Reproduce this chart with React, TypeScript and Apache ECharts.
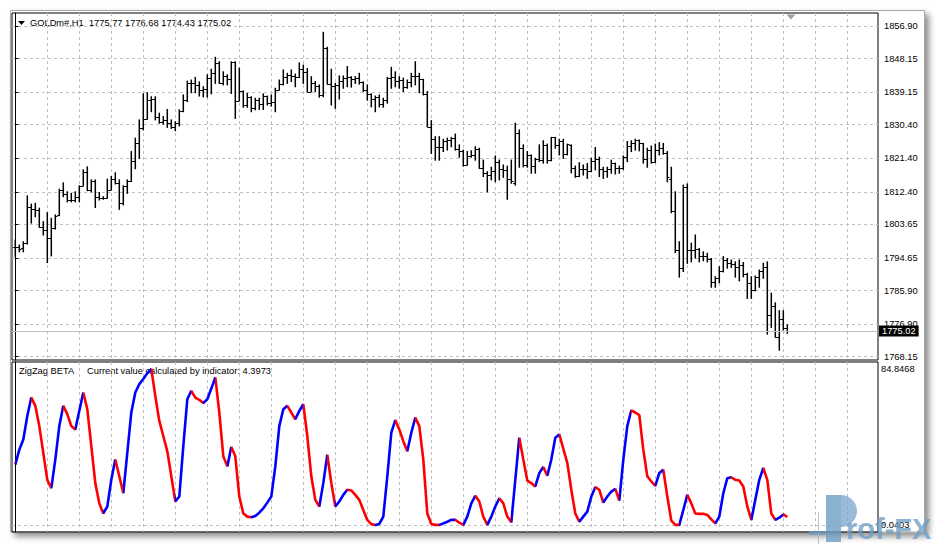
import React, { useEffect, useRef } from 'react';
import * as echarts from 'echarts';

const symbolLabel = 'GOLDm#,H1';
const indicatorName = 'ZigZag BETA';
const indicatorCaption = 'Current value calculated by indicator:';

// price axis tick labels (right scale)
const priceTicks = [1856.9, 1848.15, 1839.15, 1830.4, 1821.4, 1812.4, 1803.65, 1794.65, 1785.9, 1776.9, 1768.15];
// indicator scale labels
const indicatorTicks = [84.8468, 0.0403];
const indicatorGridLevels = [0.0403];
// vertical grid lines (bar index)
const timeGridBars = [8, 16, 24, 32, 40, 48, 56, 64, 72, 80, 88, 96, 104, 112, 120, 128, 136, 144, 152, 160, 168, 176, 184, 192, 200, 208];

const opens = [
  1797.7, 1797.7, 1797.2, 1798.6, 1808.2, 1807.7, 1807.5, 1803.0, 1802.2, 1799.9,
  1802.6, 1806.2, 1812.9, 1811.8, 1810.2, 1810.2, 1811.1, 1814.0, 1817.8, 1812.9,
  1815.4, 1810.9, 1810.7, 1810.7, 1812.9, 1815.8, 1814.7, 1809.3, 1814.0, 1815.2,
  1820.8, 1825.4, 1829.4, 1831.9, 1837.0, 1837.3, 1832.6, 1831.2, 1831.7, 1830.8,
  1829.9, 1830.8, 1834.2, 1837.0, 1841.7, 1841.5, 1841.1, 1839.7, 1840.0, 1842.9,
  1844.4, 1846.9, 1841.5, 1843.5, 1842.6, 1847.3, 1836.9, 1839.5, 1835.7, 1837.8,
  1834.8, 1837.0, 1836.0, 1838.1, 1836.2, 1836.6, 1839.7, 1841.3, 1843.1, 1843.8,
  1843.5, 1843.1, 1845.3, 1844.6, 1839.3, 1841.5, 1840.8, 1838.4, 1851.0, 1841.3,
  1840.8, 1841.1, 1842.1, 1842.9, 1843.1, 1842.6, 1842.9, 1841.9, 1839.7, 1838.7,
  1837.2, 1837.8, 1836.0, 1837.0, 1842.9, 1843.1, 1842.1, 1842.4, 1840.6, 1841.9,
  1843.5, 1843.5, 1842.6, 1838.7, 1829.9, 1826.5, 1824.4, 1824.5, 1826.1, 1826.3,
  1826.8, 1823.8, 1823.4, 1819.6, 1822.0, 1822.3, 1823.8, 1818.7, 1817.4, 1816.9,
  1818.1, 1820.5, 1818.4, 1818.3, 1815.8, 1814.7, 1828.3, 1824.1, 1819.6, 1822.3,
  1819.3, 1821.1, 1820.9, 1825.0, 1820.9, 1827.0, 1825.0, 1826.1, 1822.5, 1825.0,
  1818.7, 1816.6, 1818.4, 1818.4, 1818.1, 1820.8, 1821.1, 1818.4, 1818.1, 1818.4,
  1820.1, 1818.7, 1818.7, 1821.7, 1824.7, 1825.6, 1826.3, 1825.4, 1821.1, 1823.6,
  1820.5, 1823.6, 1824.1, 1822.9, 1815.8, 1807.3, 1796.8, 1791.9, 1813.8, 1796.8,
  1796.8, 1797.0, 1795.2, 1795.2, 1794.3, 1788.3, 1789.2, 1791.2, 1794.1, 1793.4,
  1793.0, 1792.1, 1792.7, 1790.3, 1787.8, 1786.0, 1789.6, 1791.2, 1792.3, 1779.3,
  1781.7, 1773.5, 1778.2, 1775.77,
];
const highs = [
  1799.5, 1798.1, 1799.0, 1811.3, 1809.1, 1809.3, 1808.0, 1804.4, 1806.8, 1805.3,
  1806.2, 1813.1, 1814.8, 1812.4, 1812.0, 1812.4, 1814.0, 1818.3, 1819.1, 1815.6,
  1815.6, 1812.2, 1811.1, 1815.8, 1816.5, 1817.5, 1815.6, 1814.0, 1815.6, 1823.2,
  1826.8, 1831.7, 1838.7, 1839.0, 1837.9, 1837.9, 1833.5, 1832.6, 1834.5, 1831.7,
  1831.2, 1834.4, 1838.4, 1842.1, 1842.4, 1843.1, 1841.9, 1840.6, 1843.8, 1845.3,
  1848.5, 1847.3, 1844.6, 1843.8, 1847.3, 1847.3, 1845.6, 1839.5, 1838.8, 1837.9,
  1837.5, 1837.5, 1838.7, 1838.1, 1838.4, 1840.2, 1842.4, 1845.1, 1844.2, 1845.1,
  1844.0, 1847.0, 1846.4, 1845.5, 1843.3, 1842.0, 1841.1, 1855.2, 1851.2, 1845.3,
  1841.5, 1843.5, 1843.5, 1846.0, 1843.3, 1843.3, 1844.2, 1841.9, 1841.1, 1838.7,
  1838.1, 1838.4, 1837.5, 1843.1, 1845.8, 1844.6, 1843.3, 1842.9, 1842.4, 1844.2,
  1847.3, 1844.2, 1842.6, 1839.3, 1831.5, 1827.2, 1827.2, 1826.5, 1826.8, 1827.0,
  1827.9, 1825.0, 1823.6, 1823.2, 1823.4, 1824.5, 1824.1, 1820.9, 1817.8, 1819.0,
  1822.0, 1820.9, 1819.6, 1819.3, 1820.9, 1830.8, 1829.0, 1825.0, 1823.2, 1822.3,
  1821.4, 1825.0, 1826.1, 1825.2, 1827.0, 1827.0, 1826.5, 1826.5, 1825.2, 1825.0,
  1819.3, 1820.2, 1819.6, 1820.0, 1821.4, 1824.3, 1821.7, 1819.0, 1819.0, 1820.9,
  1820.1, 1819.3, 1822.0, 1825.9, 1826.1, 1826.5, 1826.3, 1825.4, 1824.1, 1824.7,
  1825.2, 1825.6, 1825.4, 1823.2, 1819.0, 1812.4, 1799.0, 1814.2, 1814.5, 1798.6,
  1800.8, 1797.2, 1796.3, 1795.9, 1794.5, 1789.6, 1792.3, 1795.0, 1794.5, 1794.1,
  1793.6, 1794.1, 1793.4, 1790.5, 1789.6, 1789.8, 1791.4, 1793.2, 1793.6, 1785.2,
  1782.6, 1780.5, 1780.5, 1776.68,
];
const lows = [
  1795.0, 1796.3, 1796.3, 1798.4, 1804.0, 1805.7, 1802.9, 1800.8, 1793.4, 1795.2,
  1802.4, 1806.0, 1811.1, 1809.7, 1809.7, 1809.7, 1809.7, 1814.0, 1812.7, 1812.4,
  1808.2, 1810.2, 1810.4, 1810.7, 1812.9, 1814.5, 1807.7, 1808.9, 1812.0, 1815.2,
  1818.6, 1821.4, 1829.0, 1831.9, 1833.9, 1831.7, 1830.8, 1830.6, 1829.7, 1829.4,
  1828.8, 1830.1, 1833.9, 1836.6, 1839.0, 1839.0, 1838.1, 1837.9, 1837.8, 1838.7,
  1841.5, 1841.5, 1841.1, 1841.1, 1838.8, 1832.1, 1836.8, 1835.1, 1835.1, 1833.9,
  1834.4, 1834.5, 1834.5, 1835.7, 1835.4, 1833.9, 1839.7, 1841.1, 1841.5, 1842.0,
  1840.6, 1843.1, 1841.5, 1839.3, 1839.3, 1839.3, 1837.8, 1837.9, 1841.3, 1835.7,
  1834.8, 1837.3, 1840.2, 1840.6, 1840.5, 1841.5, 1841.3, 1839.3, 1837.0, 1835.2,
  1833.9, 1835.2, 1835.1, 1836.2, 1840.2, 1840.6, 1840.2, 1839.3, 1840.2, 1840.6,
  1841.1, 1839.0, 1838.4, 1829.9, 1822.7, 1820.9, 1820.9, 1823.2, 1823.6, 1824.5,
  1823.6, 1821.7, 1819.3, 1819.6, 1821.7, 1820.9, 1818.7, 1816.5, 1812.4, 1815.6,
  1815.1, 1815.6, 1816.3, 1810.4, 1814.7, 1814.2, 1819.0, 1819.1, 1819.0, 1817.4,
  1817.4, 1820.5, 1820.1, 1820.1, 1820.7, 1824.1, 1822.3, 1821.4, 1822.3, 1817.5,
  1816.3, 1816.5, 1816.9, 1816.0, 1817.8, 1818.3, 1816.5, 1816.0, 1816.3, 1817.4,
  1817.2, 1817.4, 1818.4, 1820.5, 1823.2, 1823.6, 1823.4, 1820.1, 1819.0, 1820.1,
  1820.3, 1822.3, 1822.5, 1815.1, 1806.8, 1796.1, 1789.5, 1791.0, 1793.2, 1793.6,
  1794.6, 1793.6, 1793.9, 1793.6, 1786.8, 1786.8, 1788.0, 1790.9, 1791.9, 1792.1,
  1789.5, 1788.5, 1789.6, 1783.8, 1783.8, 1785.8, 1786.8, 1789.2, 1774.2, 1776.0,
  1773.4, 1769.9, 1775.3, 1774.43,
];
const closes = [
  1797.7, 1797.0, 1798.6, 1808.2, 1807.7, 1807.5, 1803.0, 1802.2, 1799.9, 1802.6,
  1806.0, 1812.9, 1811.8, 1810.2, 1810.2, 1811.1, 1814.0, 1817.8, 1812.9, 1815.4,
  1810.9, 1810.7, 1810.7, 1812.9, 1815.8, 1814.7, 1809.3, 1814.0, 1815.4, 1820.8,
  1825.4, 1829.4, 1831.9, 1837.0, 1837.3, 1832.6, 1831.2, 1831.7, 1830.8, 1829.9,
  1830.8, 1834.2, 1837.0, 1841.7, 1841.5, 1841.1, 1839.7, 1840.0, 1842.9, 1844.4,
  1846.9, 1841.5, 1843.5, 1842.6, 1847.3, 1836.9, 1839.5, 1835.7, 1837.8, 1834.8,
  1837.0, 1836.0, 1838.1, 1836.2, 1836.6, 1839.7, 1841.3, 1843.1, 1843.8, 1843.5,
  1843.1, 1845.3, 1844.6, 1839.3, 1841.5, 1840.8, 1838.4, 1851.0, 1841.3, 1840.8,
  1841.1, 1842.1, 1842.9, 1843.1, 1842.6, 1842.9, 1841.9, 1839.7, 1838.7, 1837.2,
  1837.8, 1836.0, 1837.0, 1842.9, 1843.1, 1842.1, 1842.4, 1840.6, 1841.9, 1843.5,
  1843.5, 1842.6, 1838.7, 1829.9, 1826.5, 1824.4, 1824.4, 1826.1, 1826.3, 1826.8,
  1823.8, 1823.4, 1819.6, 1822.0, 1822.3, 1823.8, 1818.7, 1817.4, 1816.9, 1818.1,
  1820.5, 1818.4, 1818.3, 1815.8, 1815.4, 1828.3, 1824.1, 1819.6, 1822.3, 1819.3,
  1821.1, 1820.9, 1825.0, 1820.9, 1827.0, 1825.0, 1826.1, 1822.5, 1825.2, 1818.7,
  1816.6, 1818.4, 1818.4, 1818.1, 1820.8, 1821.1, 1818.4, 1818.1, 1818.4, 1820.1,
  1818.7, 1818.7, 1821.7, 1824.7, 1825.6, 1826.3, 1825.4, 1821.1, 1823.6, 1820.5,
  1823.6, 1824.1, 1822.9, 1816.3, 1807.3, 1796.8, 1791.9, 1813.8, 1796.8, 1796.8,
  1797.0, 1795.2, 1795.2, 1794.3, 1788.3, 1789.2, 1791.2, 1794.1, 1793.4, 1793.0,
  1792.1, 1792.7, 1790.3, 1787.8, 1786.0, 1789.6, 1791.2, 1792.3, 1779.3, 1781.7,
  1773.5, 1778.2, 1775.8, 1775.02,
];
const zigzag = [
  32.9, 41.0, 46.5, 59.3, 69.3, 64.8, 53.8, 39.2, 24.6, 20.1,
  35.6, 53.8, 64.8, 60.3, 53.8, 52.0, 62.1, 72.1, 63.0, 42.9,
  22.8, 11.8, 6.3, 10.1, 24.6, 35.6, 26.5, 17.3, 39.2, 61.2,
  72.1, 76.6, 79.4, 82.6, 84.8468, 70.2, 56.6, 48.4, 40.1, 26.5,
  12.8, 15.5, 42.9, 68.4, 73.0, 69.3, 68.1, 66.3, 68.4, 74.2,
  80.3, 61.2, 37.4, 31.9, 42.5, 37.4, 15.5, 6.3, 4.6, 4.2,
  4.9, 6.7, 9.1, 12.2, 15.5, 31.9, 53.8, 63.0, 64.8, 61.2,
  57.5, 62.1, 65.7, 48.4, 26.5, 13.7, 10.1, 22.8, 38.3, 22.8,
  10.1, 12.8, 16.4, 19.2, 18.8, 16.4, 13.7, 8.2, 2.8, 0.5,
  0.0403, 0.6, 4.6, 26.5, 50.2, 57.1, 52.0, 45.6, 40.1, 50.2,
  58.4, 53.8, 35.6, 6.3, 0.6, 0.1, 0.1, 0.9, 1.8, 2.8,
  2.9, 1.3, 0.1, 4.6, 11.8, 15.9, 12.8, 4.6, 0.1, 4.6,
  10.1, 14.6, 11.8, 4.6, 1.5, 24.6, 47.5, 35.6, 24.2, 22.8,
  21.0, 28.3, 31.6, 26.8, 35.6, 47.5, 49.3, 41.5, 33.8, 19.2,
  6.3, 1.8, 4.6, 7.3, 15.5, 20.6, 19.2, 12.2, 15.5, 18.2,
  19.7, 13.3, 35.6, 53.8, 62.4, 61.2, 59.8, 41.0, 26.5, 23.7,
  21.3, 28.3, 30.1, 15.5, 2.4, 0.1, 0.1, 8.2, 16.4, 11.8,
  6.3, 6.1, 6.1, 5.5, 3.1, 0.9, 4.6, 17.3, 25.5, 26.0,
  24.6, 24.2, 21.0, 10.1, 2.8, 13.7, 24.6, 31.0, 24.6, 6.3,
  2.8, 4.0, 5.8, 4.3973,
];

const FONT = '"Liberation Sans", Arial, sans-serif';
const FS = 9.3;
const UP = '#0000ff';
const DOWN = '#ff0000';
const GRID_COLOR = '#c0c0c0';

export default function App() {
  const ref = useRef<HTMLDivElement>(null);
  useEffect(() => {
    if (!ref.current) return;
    const chart = echarts.init(ref.current, null, { renderer: 'svg' });
    const n = closes.length;
    const last = n - 1;
    const barData = closes.map((c, i) => [i, opens[i], highs[i], lows[i], c]);
    const lineData = zigzag.map((v, i) => [i, v]);

    // colour runs: rising segments blue, falling red
    const pieces: any[] = [];
    let runStart = 0;
    let runUp = zigzag[1] > zigzag[0];
    for (let i = 1; i < n - 1; i++) {
      const up = zigzag[i + 1] > zigzag[i];
      if (up !== runUp) {
        pieces.push({ gte: runStart, lte: i, color: runUp ? UP : DOWN });
        runStart = i;
        runUp = up;
      }
    }
    pieces.push({ gte: runStart, lte: last, color: runUp ? UP : DOWN });

    const title = `${symbolLabel}  ${opens[last].toFixed(2)} ${highs[last].toFixed(2)} ${lows[last].toFixed(2)} ${closes[last].toFixed(2)}`;
    const caption = `${indicatorCaption} ${zigzag[last].toFixed(4)}`;

    const xCommon = {
      type: 'value',
      min: -0.825,
      max: 215.675,
      axisLine: { show: false },
      axisLabel: { show: false },
      axisTick: { show: false, customValues: timeGridBars },
      splitLine: { show: true, lineStyle: { color: GRID_COLOR, type: [3, 3], width: 1 } },
    };

    const option: any = {
      animation: false,
      backgroundColor: '#ffffff',
      textStyle: { fontFamily: FONT },
      grid: [
        { left: 12, top: 13, width: 866, height: 347, show: true, borderColor: '#000', borderWidth: 1, containLabel: false, outerBoundsMode: 'none' },
        { left: 12, top: 362, width: 866, height: 170, show: true, borderColor: '#000', borderWidth: 1, containLabel: false, outerBoundsMode: 'none' },
      ],
      xAxis: [
        { ...xCommon, gridIndex: 0 },
        { ...xCommon, gridIndex: 1 },
      ],
      yAxis: [
        {
          type: 'value',
          gridIndex: 0,
          position: 'right',
          min: 1767.26,
          max: 1860.39,
          axisLine: { show: true, lineStyle: { color: '#000', width: 1 } },
          axisTick: { show: true, length: 3, customValues: priceTicks, lineStyle: { color: '#000' } },
          axisLabel: {
            show: true,
            customValues: priceTicks,
            formatter: (v: number) => v.toFixed(2),
            color: '#000',
            fontSize: FS,
            fontFamily: FONT,
            margin: 6,
          },
          splitLine: { show: true, lineStyle: { color: GRID_COLOR, type: [3, 3], width: 1 } },
        },
        {
          type: 'value',
          gridIndex: 1,
          position: 'right',
          min: -3.77,
          max: 88.65,
          axisLine: { show: true, lineStyle: { color: '#000', width: 1 } },
          axisTick: { show: false, customValues: indicatorGridLevels },
          axisLabel: {
            show: true,
            customValues: indicatorTicks,
            formatter: (v: number) => v.toFixed(4),
            color: '#000',
            fontSize: FS,
            fontFamily: FONT,
            margin: 3,
          },
          splitLine: { show: true, lineStyle: { color: GRID_COLOR, type: [3, 3], width: 1 } },
        },
      ],
      visualMap: {
        type: 'piecewise',
        show: false,
        dimension: 0,
        seriesIndex: 1,
        pieces,
        outOfRange: { color: DOWN },
      },
      series: [
        {
          type: 'custom',
          xAxisIndex: 0,
          yAxisIndex: 0,
          data: barData,
          encode: { x: 0, y: [1, 2, 3, 4] },
          clip: true,
          renderItem: (params: any, api: any) => {
            const k = api.value(0);
            const o = api.coord([k, api.value(1)]);
            const h = api.coord([k, api.value(2)]);
            const l = api.coord([k, api.value(3)]);
            const c = api.coord([k, api.value(4)]);
            const x = h[0];
            const oy = Math.round(o[1]) + 0.5;
            const cy = Math.round(c[1]) + 0.5;
            return {
              type: 'group',
              children: [
                { type: 'line', shape: { x1: x, y1: h[1] - 0.5, x2: x, y2: l[1] + 0.5 }, style: { stroke: '#000', lineWidth: 1.5 } },
                { type: 'line', shape: { x1: x - 2.2, y1: oy, x2: x, y2: oy }, style: { stroke: '#000', lineWidth: 1 } },
                { type: 'line', shape: { x1: x, y1: cy, x2: x + 2.2, y2: cy }, style: { stroke: '#000', lineWidth: 1 } },
              ],
            };
          },
          markLine: {
            silent: true,
            symbol: 'none',
            lineStyle: { color: '#c0c0c0', type: 'solid', width: 1 },
            label: {
              show: true,
              position: 'end',
              distance: 1,
              formatter: () => closes[last].toFixed(2),
              color: '#fff',
              backgroundColor: '#000',
              padding: [1, 3, 1, 3],
              fontSize: FS,
              fontFamily: FONT,
            },
            data: [{ yAxis: closes[last] }],
          },
        },
        {
          type: 'line',
          xAxisIndex: 1,
          yAxisIndex: 1,
          data: lineData,
          symbol: 'none',
          showSymbol: false,
          lineStyle: { width: 2.6 },
          z: 3,
        },
      ],
      graphic: [
        {
          type: 'rect',
          z: -10,
          silent: true,
          shape: { x: 10.5, y: 10.5, width: 914, height: 521.5 },
          style: { fill: '#ffffff', stroke: '#a8a8a8', lineWidth: 1, shadowBlur: 6, shadowOffsetX: 4, shadowOffsetY: 4, shadowColor: 'rgba(0,0,0,0.45)' },
        },
        { type: 'polygon', silent: true, shape: { points: [[18, 21], [25, 21], [21.5, 25]] }, style: { fill: '#000' } },
        { type: 'text', silent: true, x: 30, y: 23, style: { text: title, fill: '#000', font: `${FS}px ${FONT}`, verticalAlign: 'middle' } },
        { type: 'polygon', silent: true, shape: { points: [[786.5, 14.5], [795.5, 14.5], [791, 19.5]] }, style: { fill: '#a0a0a0' } },
        { type: 'text', silent: true, x: 19, y: 371, style: { text: indicatorName, fill: '#000', font: `${FS}px ${FONT}`, verticalAlign: 'middle' } },
        { type: 'text', silent: true, x: 87, y: 371, style: { text: caption, fill: '#000', font: `${FS}px ${FONT}`, verticalAlign: 'middle' } },
        // watermark
        { type: 'rect', silent: true, z: 50, shape: { x: 826, y: 495, width: 15, height: 47 }, style: { fill: 'rgba(110,158,198,0.8)' } },
        { type: 'sector', silent: true, z: 50, shape: { cx: 841, cy: 511, r: 16, r0: 0, startAngle: -Math.PI / 2, endAngle: Math.PI / 2 }, style: { fill: 'rgba(120,165,205,0.75)' } },
        { type: 'rect', silent: true, z: 50, shape: { x: 809, y: 531, width: 17, height: 4 }, style: { fill: 'rgba(110,158,198,0.7)' } },
        { type: 'line', silent: true, z: 50, shape: { x1: 818.5, y1: 512, x2: 818.5, y2: 544 }, style: { stroke: 'rgba(140,175,210,0.7)', lineWidth: 1 } },
        { type: 'text', silent: true, z: 50, x: 846, y: 514, style: { text: 'rof-FX', fill: 'rgba(110,158,198,0.8)', font: `bold 29px ${FONT}` } },
      ],
    };
    chart.setOption(option);
    return () => chart.dispose();
  }, []);
  return <div ref={ref} style={{ position: 'absolute', left: 0, top: 0, width: 937, height: 544 }} />;
}
